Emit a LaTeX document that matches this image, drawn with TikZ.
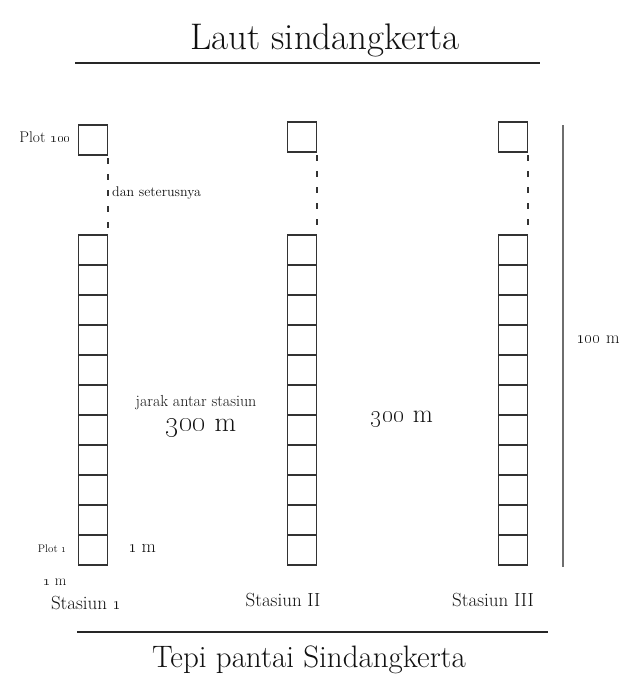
\documentclass[tikz,border=0pt]{standalone}
\usetikzlibrary{positioning}
\definecolor{inkText}{HTML}{111111}
\definecolor{plotStroke}{HTML}{333333}
\definecolor{rulerStroke}{HTML}{6E6E6E}
\newcommand{\fs}[1]{\fontsize{#1}{1.2\dimexpr#1pt\relax}\selectfont}

\begin{document}
\begin{tikzpicture}[x=1pt,y=-1pt,
  plot/.style={rectangle,draw=plotStroke,line width=1.3pt,minimum width=29pt,minimum height=30pt,inner sep=0pt,outer sep=0pt},
  gap/.style={draw=plotStroke,line width=2pt,dash pattern=on 6pt off 10pt,dash phase=-3pt},
  rule/.style={draw=black!85,line width=2.2pt},
  ruler/.style={draw=rulerStroke,line width=1.1pt},
  lbl/.style={text=inkText,inner sep=0pt}
]
\useasboundingbox (0,0) rectangle (625,681);
% Three transects of 1 m plots, each topped by plot 100 above a dashed gap.
\node[lbl,font=\fs{37}] (sea) at (325,40) {Laut sindangkerta};
\coordinate (seaL) at (75,63);
\coordinate (seaR) at (540,63);
\draw[rule] (seaL) -- (seaR);
\foreach \col/\xx/\yy in {1/93/140,2/302/137,3/513/137}{
  \node[plot] (top\col) at (\xx,\yy) {};
  \foreach \k in {1,...,11}
    \node[plot] (p\col-\k) at (\xx,{550-30*(\k-1)}) {};
  \draw[gap] (top\col.south east) -- (p\col-11.north east);
}
\node[lbl,font=\fs{15.5},anchor=east] (plot100) at (71,137) {Plot \oldstylenums{100}};
\node[lbl,font=\fs{14},anchor=west] (etc) at (112,193) {dan seterusnya};
\node[lbl,font=\fs{11},anchor=east] (plot1) at (67,549) {Plot \oldstylenums{1}};
\node[lbl,font=\fs{18.5}] (plotH) at (142,548) {\oldstylenums{1} m};
\node[lbl,font=\fs{15}] (plotW) at (55,582) {\oldstylenums{1} m};
\node[lbl,font=\fs{16}] (jarak) at (196,403) {jarak antar stasiun};
\node[lbl,font=\fs{28}] (dist1) at (201,428) {\oldstylenums{300} m};
\node[lbl,font=\fs{26}] (dist2) at (402,419) {\oldstylenums{300} m};
\coordinate (dimtop) at (563,125);
\coordinate (dimbot) at (563,567);
\draw[ruler] (dimtop) -- (dimbot);
\node[lbl,font=\fs{17.5}] (len) at (598,340) {\oldstylenums{100} m};
\node[lbl,font=\fs{19}] (st1) at (86,603) {Stasiun \oldstylenums{1}};
\node[lbl,font=\fs{19}] (st2) at (283,600) {Stasiun II};
\node[lbl,font=\fs{19}] (st3) at (493,600) {Stasiun III};
\coordinate (shoreL) at (77,632);
\coordinate (shoreR) at (548,632);
\draw[rule] (shoreL) -- (shoreR);
\node[lbl,font=\fs{31}] (shore) at (309,660) {Tepi pantai Sindangkerta};
\end{tikzpicture}
\end{document}
